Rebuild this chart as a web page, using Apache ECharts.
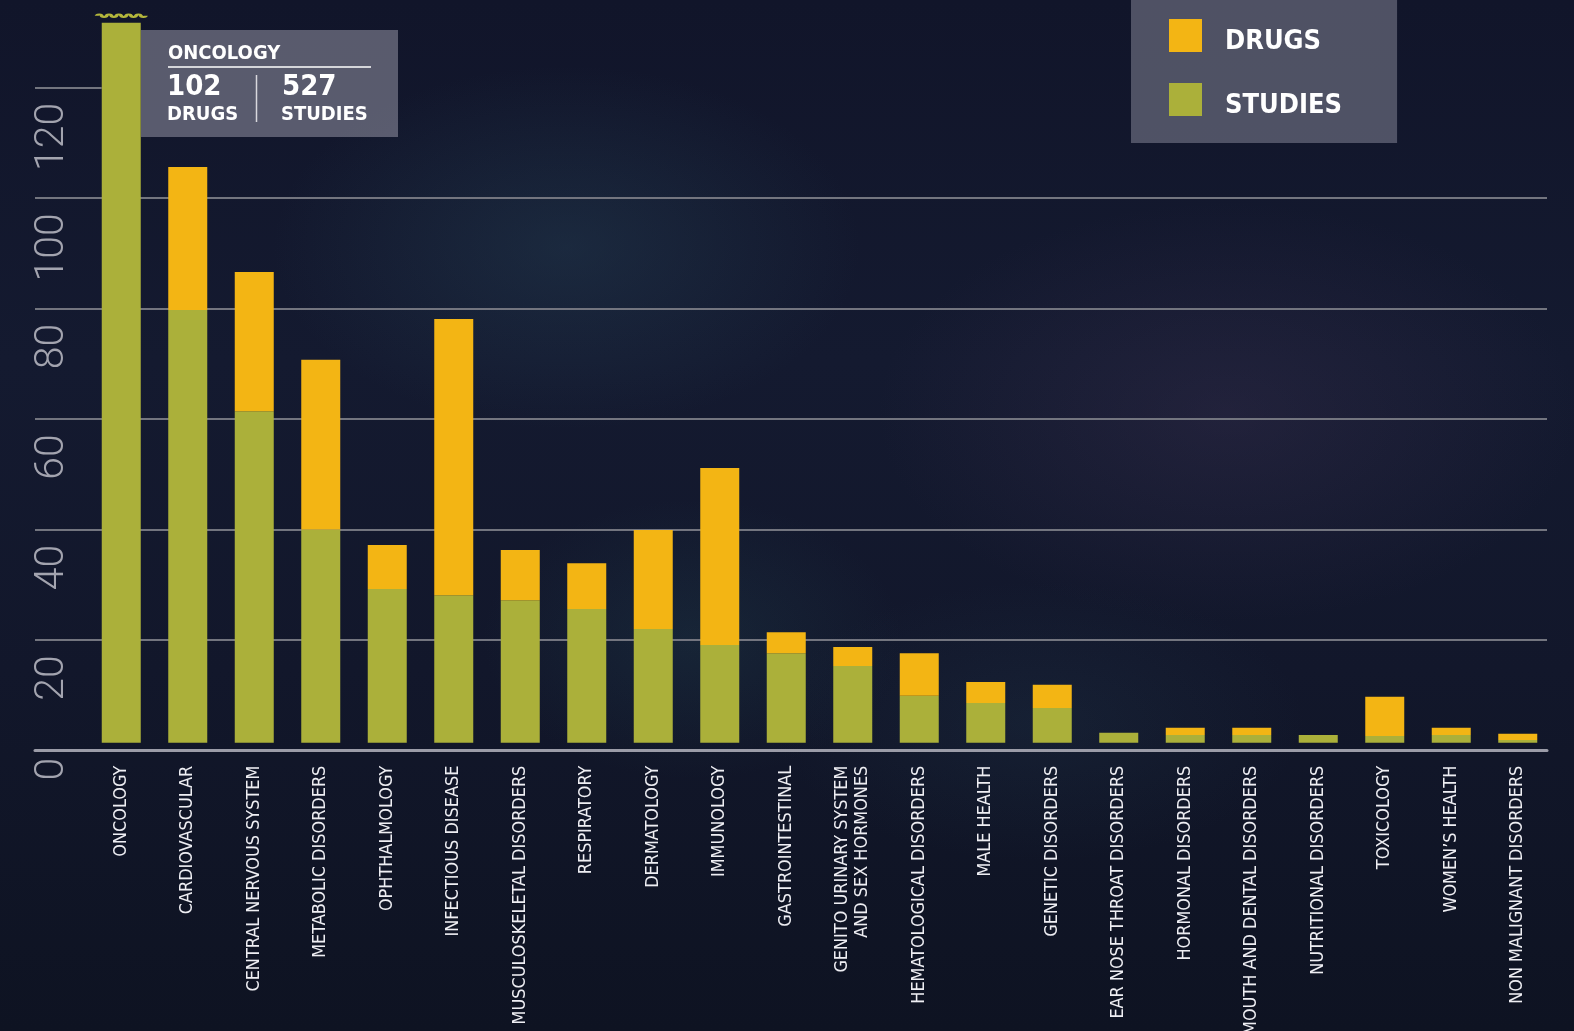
<!DOCTYPE html>
<html>
<head>
<meta charset="utf-8">
<script src="https://cdn.jsdelivr.net/npm/echarts@6/dist/echarts.min.js"></script>
<style>
html,body{margin:0;padding:0;width:1574px;height:1031px;overflow:hidden;}
body{
  background:
    radial-gradient(ellipse 420px 260px at 36% 24%, rgba(45,80,100,0.30), rgba(0,0,0,0) 70%),
    radial-gradient(ellipse 500px 300px at 78% 40%, rgba(70,55,90,0.28), rgba(0,0,0,0) 70%),
    radial-gradient(ellipse 300px 200px at 44% 62%, rgba(40,85,95,0.22), rgba(0,0,0,0) 70%),
    radial-gradient(ellipse 380px 200px at 66% 70%, rgba(40,70,90,0.20), rgba(0,0,0,0) 70%),
    linear-gradient(180deg, #11152a 0%, #141a30 35%, #12172b 65%, #0e1322 100%);
}
#chart{width:1574px;height:1031px;}
</style>
</head>
<body>
<div id="chart"></div>
<script>
const categories = ['ONCOLOGY','CARDIOVASCULAR','CENTRAL NERVOUS SYSTEM','METABOLIC DISORDERS','OPHTHALMOLOGY','INFECTIOUS DISEASE','MUSCULOSKELETAL DISORDERS','RESPIRATORY','DERMATOLOGY','IMMUNOLOGY','GASTROINTESTINAL','GENITO URINARY SYSTEM\nAND SEX HORMONES','HEMATOLOGICAL DISORDERS','MALE HEALTH','GENETIC DISORDERS','EAR NOSE THROAT DISORDERS','HORMONAL DISORDERS','MOUTH AND DENTAL DISORDERS','NUTRITIONAL DISORDERS','TOXICOLOGY','WOMEN\u2019S HEALTH','NON MALIGNANT DISORDERS'];
const studies = [130.3,78.3,60.0,38.6,27.8,26.7,25.8,24.2,20.6,17.7,16.2,13.9,8.5,7.2,6.3,1.8,1.4,1.4,1.4,1.2,1.4,0.5];
const drugs   = [0,25.9,25.2,30.7,8.0,50.0,9.1,8.3,17.9,32.0,3.8,3.4,7.7,3.8,4.2,0,1.3,1.3,0,7.1,1.3,1.1];
const yTicks = [0,20,40,60,80,100,120];
const highlightName = 'ONCOLOGY';
const highlightDrugs = 102;
const highlightStudies = 527;

const COND = '"DejaVu Sans Condensed","DejaVu Sans",sans-serif';
const PX = 5.525; // pixels per unit

const chart = echarts.init(document.getElementById('chart'), null, {renderer:'canvas'});
const option = {
  backgroundColor: 'transparent',
  animation: false,
  grid: [
    {left: 35, right: 27, bottom: 1031 - 750.7, height: 100 * PX, outerBoundsMode: 'none', containLabel: false},
    {left: 35, width: 66.7, bottom: 1031 - 750.7, height: 120 * PX, outerBoundsMode: 'none', containLabel: false},
    {left: 88, right: 23, bottom: 1031 - 742.7, height: 134 * PX, outerBoundsMode: 'none', containLabel: false}
  ],
  xAxis: [
    {gridIndex: 0, type: 'category', data: [''], axisTick: {show: false}, axisLabel: {show: false},
     axisLine: {show: true, lineStyle: {color: '#9b9ca8', width: 3}}},
    {gridIndex: 1, type: 'category', data: [''], show: false},
    {gridIndex: 2, type: 'category', data: categories,
     axisLine: {show: false}, axisTick: {show: false},
     axisLabel: {interval: 0, rotate: 90, margin: 23, color: '#eeeef3', fontSize: 17.9,
       fontFamily: COND, lineHeight: 20}}
  ],
  yAxis: [
    {gridIndex: 0, type: 'value', min: 0, max: 100, interval: 20,
     axisLine: {show: false}, axisTick: {show: false}, axisLabel: {show: false},
     splitLine: {show: true, lineStyle: {color: '#73757f', width: 2}}},
    {gridIndex: 1, type: 'value', min: 0, max: 120, interval: 20,
     axisLine: {show: false}, axisTick: {show: false},
     splitLine: {show: true, lineStyle: {color: '#73757f', width: 2}},
     axisLabel: {inside: true, margin: 18, rotate: 90, align: 'right', verticalAlign: 'middle',
       formatter: v => yTicks.indexOf(v) < 0 ? '' : (v === 0 ? '{z|0}' : '{n|' + v + '}'),
       rich: {
         z: {fontSize: 41, fontFamily: 'Roboto', fontWeight: 300, color: '#a3a4af', padding: [0, 7, 0, 0]},
         n: {fontSize: 41, fontFamily: 'Roboto', fontWeight: 300, color: '#a3a4af', padding: [0, 15, 0, 0]}
       }}},
    {gridIndex: 2, type: 'value', min: 0, max: 134, show: false, splitLine: {show: false}}
  ],
  legend: {
    left: 1131, top: 0, orient: 'vertical', selectedMode: false,
    data: ['DRUGS', 'STUDIES'], icon: 'rect',
    itemWidth: 33, itemHeight: 33, itemGap: 25,
    padding: [16, 55, 24, 38],
    backgroundColor: 'rgba(172,172,188,0.40)',
    formatter: '{t|{name}}',
    textStyle: {
      rich: {t: {color: '#ffffff', fontSize: 27, fontWeight: 'bold', fontFamily: COND,
        lineHeight: 21, padding: [12, 0, 0, 18]}}
    }
  },
  series: [
    {name: 'STUDIES', type: 'bar', stack: 'a', xAxisIndex: 2, yAxisIndex: 2, data: studies,
     barWidth: 39, itemStyle: {color: '#abb03a'},
     markPoint: {
       silent: true,
       symbol: 'path://M0,3 Q2.5,0 5,3 T10,3 T15,3 T20,3 T25,3 T30,3 T35,3 T40,3 T45,3 T50,3',
       symbolSize: [49, 4], symbolOffset: [0, -7],
       itemStyle: {color: 'none', borderColor: '#b3b63c', borderWidth: 1.2},
       label: {show: false},
       data: [{coord: [highlightName, studies[categories.indexOf(highlightName)]]}]
     }},
    {name: 'DRUGS', type: 'bar', stack: 'a', xAxisIndex: 2, yAxisIndex: 2, data: drugs,
     barWidth: 39, itemStyle: {color: '#f3b514'}}
  ],
  graphic: [
    {type: 'group', left: 141, top: 30, z: 100, children: [
      {type: 'rect', shape: {x: 0, y: 0, width: 257, height: 107}, style: {fill: 'rgba(177,175,190,0.45)'}},
      {type: 'text', x: 27, y: 14, style: {text: highlightName, fill: '#fff', font: 'bold 20px ' + COND}},
      {type: 'line', shape: {x1: 27, y1: 37, x2: 230, y2: 37}, style: {stroke: '#ffffff', lineWidth: 1.5}},
      {type: 'text', x: 26, y: 43, style: {text: String(highlightDrugs), fill: '#fff', font: 'bold 29px ' + COND}},
      {type: 'text', x: 26, y: 75, style: {text: 'DRUGS', fill: '#fff', font: 'bold 20px ' + COND}},
      {type: 'line', shape: {x1: 115.5, y1: 45, x2: 115.5, y2: 92}, style: {stroke: '#d8d8de', lineWidth: 1.5}},
      {type: 'text', x: 141, y: 43, style: {text: String(highlightStudies), fill: '#fff', font: 'bold 29px ' + COND}},
      {type: 'text', x: 140, y: 75, style: {text: 'STUDIES', fill: '#fff', font: 'bold 20px ' + COND}}
    ]}
  ]
};
chart.setOption(option);
</script>
</body>
</html>
